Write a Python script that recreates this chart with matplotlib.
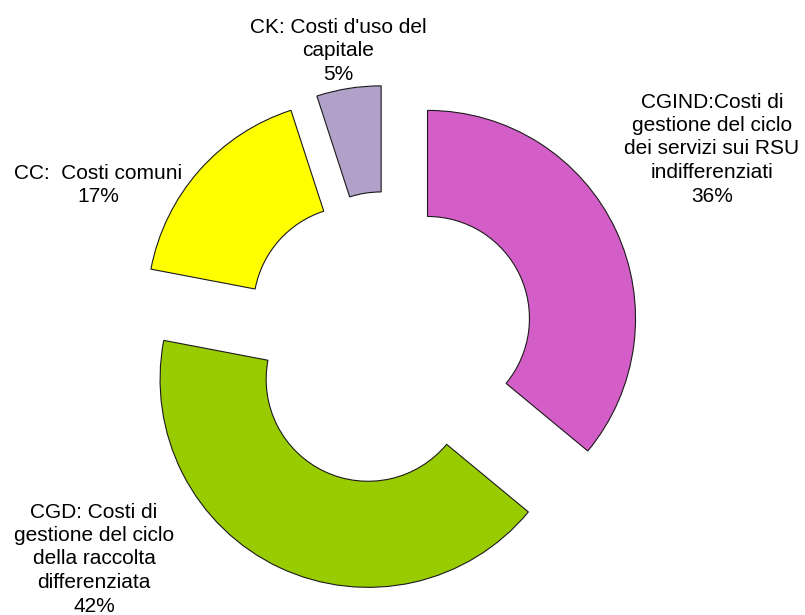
import matplotlib.pyplot as plt

# cost breakdown
labels = [
    "CGIND:Costi di\ngestione del ciclo\ndei servizi sui RSU\nindifferenziati",
    "CGD: Costi di\ngestione del ciclo\ndella raccolta\ndifferenziata",
    "CC:  Costi comuni",
    "CK: Costi d'uso del\ncapitale",
]
shares = [36, 42, 17, 5]
colors = ["#D45EC7", "#99CC00", "#FFFF00", "#B1A1C9"]

# label anchor points (pixels from top-left)
label_pos = [(712, 149), (94, 559), (98, 185), (338, 51)]

plt.rcParams["font.family"] = ["Liberation Sans", "DejaVu Sans"]

W, H = 805, 615
fig = plt.figure(figsize=(W / 100, H / 100), dpi=100)
ax = fig.add_axes([0, 0, 1, 1])

ax.pie(shares, colors=colors, startangle=90, counterclock=False,
       explode=[0.21, 0.225, 0.21, 0.21], radius=1.0,
       wedgeprops=dict(width=0.51, edgecolor="#1a1a1a", linewidth=0.8))

# 1 data unit = 208 px, centre at (388, 337)
scale = 208.0
cx, cy = 388.0, 337.0
ax.set_xlim(-cx / scale, (W - cx) / scale)
ax.set_ylim(-(H - cy) / scale, cy / scale)
ax.axis("off")

for text, share, (px, py) in zip(labels, shares, label_pos):
    fig.text(px / W, 1 - py / H, "%s\n%d%%" % (text, share),
             ha="center", va="center", fontsize=15, color="black",
             linespacing=1.3)

fig.savefig("out.png", dpi=100)
